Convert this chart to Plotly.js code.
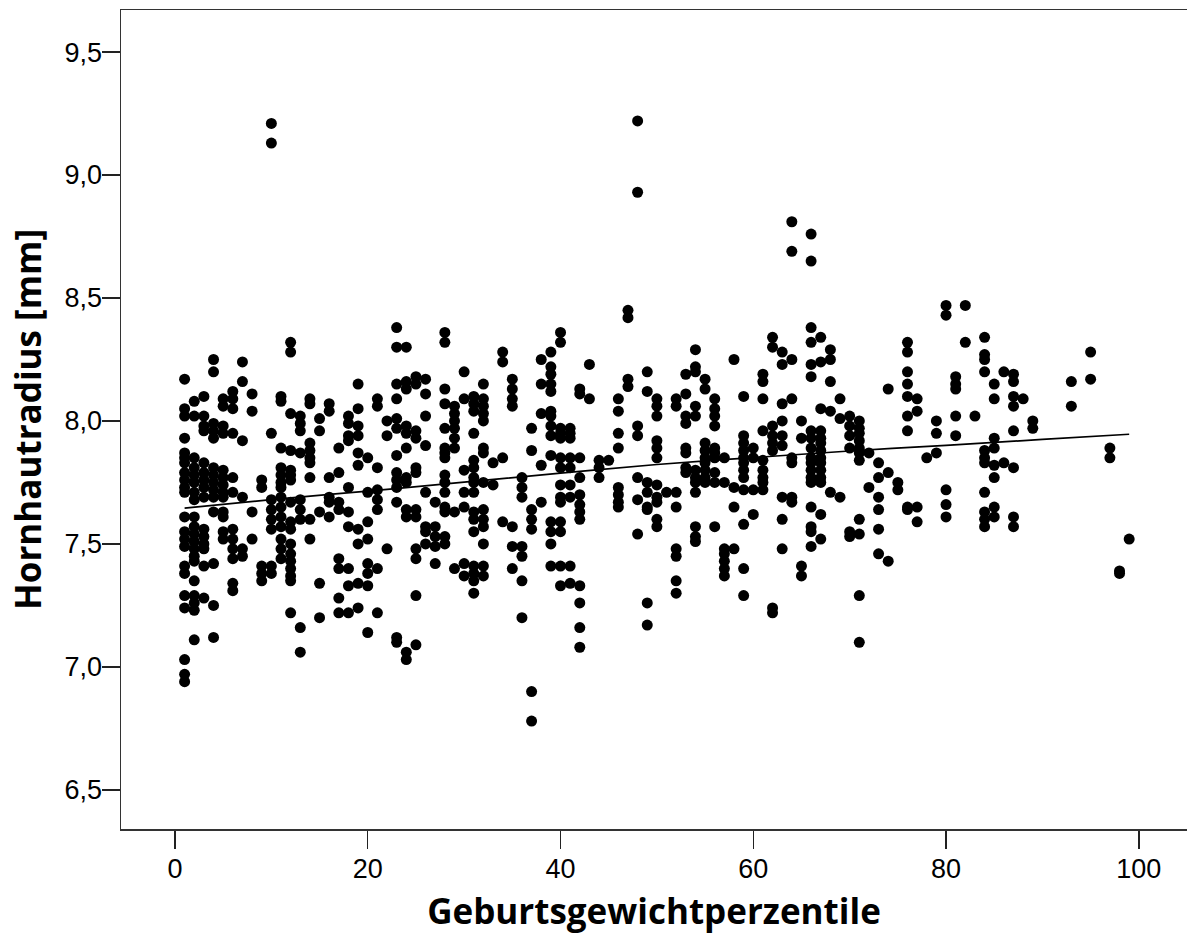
<!DOCTYPE html>
<html>
<head>
<meta charset="utf-8">
<script src="https://cdn.plot.ly/plotly-3.0.1.min.js"></script>
<style>html,body{margin:0;padding:0;background:#fff;}#chart{width:1187px;height:944px;}</style>
</head>
<body>
<div id="chart"></div>
<script>
// Percentile columns and the Hornhautradius values read for each column
const colPercentile = [1,2,3,4,5,6,7,8,9,10,11,12,13,14,15,16,17,18,19,20,21,22,23,24,25,26,27,28,29,30,31,32,33,34,35,36,37,38,39,40,41,42,43,44,45,46,47,48,49,50,51,52,53,54,55,56,57,58,59,60,61,62,63,64,65,66,67,68,69,70,71,72,73,74,75,76,77,78,79,80,81,82,83,84,85,86,87,88,89,93,95,97,98,99];
const colRadius = [
  [8.17,8.05,8.02,7.93,7.87,7.85,7.83,7.79,7.76,7.73,7.71,7.61,7.55,7.52,7.49,7.41,7.38,7.29,7.24,7.03,6.97,6.94],
  [8.08,8.02,7.85,7.81,7.78,7.75,7.71,7.68,7.61,7.57,7.54,7.51,7.48,7.45,7.43,7.35,7.29,7.26,7.23,7.11],
  [8.10,8.02,7.98,7.96,7.83,7.79,7.76,7.73,7.69,7.56,7.53,7.50,7.48,7.41,7.28],
  [8.25,8.20,7.99,7.96,7.93,7.81,7.78,7.75,7.72,7.69,7.63,7.42,7.25,7.12],
  [8.09,8.06,7.98,7.95,7.80,7.77,7.74,7.71,7.69,7.63,7.61,7.55,7.52],
  [8.12,8.09,8.05,7.95,7.77,7.71,7.56,7.52,7.48,7.44,7.34,7.31],
  [8.24,8.16,7.92,7.69,7.48,7.45],
  [8.11,8.04,7.63,7.52],
  [7.76,7.73,7.41,7.38,7.35],
  [9.21,9.13,7.95,7.68,7.64,7.60,7.56,7.41,7.38],
  [8.10,8.08,7.89,7.81,7.78,7.75,7.73,7.69,7.65,7.61,7.57,7.52,7.48,7.44],
  [8.32,8.28,8.03,7.88,7.80,7.78,7.76,7.67,7.59,7.56,7.50,7.46,7.43,7.40,7.37,7.35,7.22],
  [8.02,7.99,7.96,7.87,7.68,7.64,7.60,7.16,7.06],
  [8.09,8.07,7.91,7.88,7.85,7.83,7.77,7.60,7.52],
  [8.01,7.96,7.63,7.34,7.20],
  [8.07,8.04,7.77,7.69,7.67,7.61],
  [7.89,7.79,7.67,7.64,7.44,7.40,7.28,7.22],
  [8.02,7.99,7.94,7.92,7.73,7.63,7.57,7.40,7.33,7.22],
  [8.15,8.05,7.98,7.94,7.87,7.82,7.56,7.50,7.34,7.24],
  [7.85,7.71,7.59,7.52,7.42,7.38,7.33,7.14],
  [8.09,8.06,7.81,7.72,7.68,7.64,7.40,7.22],
  [8.00,7.94,7.48],
  [8.38,8.30,8.15,8.09,8.01,7.97,7.86,7.79,7.76,7.73,7.67,7.12,7.10],
  [8.30,8.16,8.13,7.98,7.95,7.89,7.77,7.75,7.64,7.61,7.06,7.03],
  [8.18,8.15,7.96,7.93,7.81,7.79,7.64,7.61,7.48,7.44,7.29,7.09],
  [8.17,8.11,8.02,7.90,7.71,7.57,7.55,7.50],
  [7.67,7.57,7.53,7.49,7.42],
  [8.36,8.32,8.13,8.07,7.97,7.89,7.87,7.85,7.78,7.75,7.71,7.65,7.63,7.53,7.50],
  [8.06,8.03,8.00,7.97,7.93,7.89,7.63,7.40],
  [8.20,8.09,7.80,7.71,7.65,7.42,7.37],
  [8.10,8.07,8.04,7.95,7.84,7.81,7.77,7.75,7.71,7.63,7.60,7.55,7.41,7.38,7.35,7.30],
  [8.15,8.09,8.06,8.03,8.00,7.89,7.87,7.75,7.64,7.60,7.57,7.50,7.41,7.37],
  [7.83,7.74],
  [8.28,8.24,7.85,7.59],
  [8.17,8.13,8.09,8.06,7.57,7.49,7.40],
  [7.77,7.73,7.69,7.49,7.45,7.35,7.20],
  [7.97,7.88,7.64,7.60,7.56,6.90,6.78],
  [8.25,8.15,8.03,7.82,7.67],
  [8.28,8.22,8.19,8.15,8.12,8.04,8.02,7.98,7.94,7.86,7.59,7.55,7.50,7.41],
  [8.36,8.32,7.97,7.95,7.93,7.85,7.81,7.74,7.69,7.67,7.59,7.55,7.41,7.33],
  [7.97,7.95,7.93,7.85,7.81,7.74,7.69,7.41,7.34],
  [8.13,8.11,7.85,7.77,7.70,7.66,7.63,7.60,7.33,7.26,7.16,7.08],
  [8.23,8.09],
  [7.84,7.81,7.77],
  [7.84],
  [8.09,8.04,7.95,7.89,7.73,7.70,7.67,7.65],
  [8.45,8.42,8.17,8.14],
  [9.22,8.93,7.98,7.94,7.77,7.68,7.54],
  [8.20,8.12,7.75,7.71,7.65,7.64,7.26,7.17],
  [8.09,8.06,8.02,7.92,7.89,7.85,7.74,7.69,7.67,7.60,7.57],
  [7.71],
  [8.09,8.06,7.71,7.65,7.48,7.45,7.35,7.30],
  [8.19,8.11,8.02,7.99,7.89,7.87,7.81,7.79],
  [8.29,8.22,8.20,8.06,8.02,7.80,7.77,7.75,7.71,7.57,7.53,7.51],
  [8.17,8.13,7.91,7.88,7.85,7.83,7.80,7.77,7.75],
  [8.09,8.05,8.02,7.98,7.89,7.87,7.85,7.79,7.75,7.57],
  [7.85,7.75,7.48,7.46,7.43,7.40,7.37],
  [8.25,7.73,7.65,7.48],
  [8.10,7.94,7.91,7.88,7.85,7.83,7.80,7.77,7.72,7.58,7.40,7.29],
  [7.89,7.85,7.72,7.62],
  [8.19,8.16,8.09,7.96,7.84,7.80,7.77,7.75,7.72],
  [8.34,8.30,7.98,7.94,7.91,7.88,7.24,7.22],
  [8.28,8.23,8.07,8.00,7.94,7.90,7.69,7.60,7.48],
  [8.81,8.69,8.25,8.09,7.85,7.83,7.69,7.67],
  [8.00,7.93,7.41,7.37],
  [8.76,8.65,8.38,8.32,8.23,8.18,7.96,7.93,7.89,7.85,7.83,7.80,7.77,7.75,7.65,7.57,7.55,7.49],
  [8.34,8.24,8.05,7.96,7.93,7.91,7.88,7.85,7.83,7.80,7.77,7.75,7.62,7.52],
  [8.29,8.25,8.16,8.04,7.71],
  [8.09,8.01,7.69],
  [8.02,7.98,7.94,7.89,7.55,7.53],
  [8.00,7.97,7.95,7.92,7.89,7.87,7.84,7.60,7.54,7.29,7.10],
  [7.87,7.73],
  [7.83,7.77,7.69,7.64,7.56,7.46],
  [8.13,7.79,7.43],
  [7.75,7.72],
  [8.32,8.28,8.20,8.15,8.10,8.02,7.96,7.65,7.64],
  [8.09,8.04,7.65,7.59],
  [7.85],
  [8.00,7.95,7.87],
  [8.47,8.43,7.72,7.66,7.61],
  [8.18,8.15,8.13,8.02,7.94],
  [8.47,8.32],
  [8.02],
  [8.34,8.27,8.25,8.20,7.88,7.85,7.83,7.71,7.63,7.60,7.57],
  [8.15,8.09,7.93,7.89,7.82,7.77,7.65,7.61],
  [8.20,7.83],
  [8.19,8.16,8.10,8.06,7.96,7.81,7.61,7.57],
  [8.09],
  [8.00,7.97],
  [8.16,8.06],
  [8.28,8.17],
  [7.89,7.85],
  [7.39,7.38],
  [7.52]
];
// Fit line (as drawn)
const fitPercentile = [1,10,20,30,40,50,60,70,80,90,99];
const fitRadius = [7.646,7.680,7.715,7.751,7.788,7.823,7.851,7.878,7.901,7.925,7.946];
// Tick labels
const xTicks = [0,20,40,60,80,100];
const yTicks = [6.5,7.0,7.5,8.0,8.5,9.0,9.5];

const px = [], py = [];
colPercentile.forEach((p, i) => colRadius[i].forEach(v => { px.push(p); py.push(v); }));

const tickFamily = "Liberation Sans Narrow, Liberation Sans, Arial, sans-serif";
const titleFont = {family: "Open Sans, Liberation Sans, sans-serif", size: 35, color: '#000', weight: 'bold'};

const traces = [
  {type:'scatter', mode:'markers', x: px, y: py, marker:{color:'#000', size:11, line:{width:0}}, hoverinfo:'x+y'},
  {type:'scatter', mode:'lines', x: fitPercentile, y: fitRadius, line:{color:'#000', width:1.7, shape:'spline'}}
];
const layout = {
  width:1187, height:944, showlegend:false,
  paper_bgcolor:'#fff', plot_bgcolor:'#fff',
  separators: ',.',
  margin:{l:121, r:0, t:10, b:115, pad:0},
  xaxis:{range:[-5.6,105.0], tickvals:xTicks, ticks:'outside', ticklen:18, tickwidth:1.5, tickcolor:'#222',
    showline:true, linecolor:'#333', linewidth:1.5, mirror:true, showgrid:false, zeroline:false,
    ticklabelstandoff:-3,
    tickfont:{family:tickFamily, size:27, color:'#000'},
    title:{text:'Geburtsgewichtperzentile', font:titleFont, standoff:16}},
  yaxis:{range:[6.341,9.671], tickvals:yTicks, tickformat:'.1f', ticks:'outside', ticklen:18, tickwidth:1.5, tickcolor:'#222',
    showline:true, linecolor:'#333', linewidth:1.5, mirror:true, showgrid:false, zeroline:false,
    ticklabelstandoff:-6,
    tickfont:{family:tickFamily, size:27, color:'#000'},
    title:{text:'Hornhautradius [mm]', font:titleFont, standoff:12}}
};
Plotly.newPlot('chart', traces, layout, {displayModeBar:false, staticPlot:true});
</script>
</body>
</html>
